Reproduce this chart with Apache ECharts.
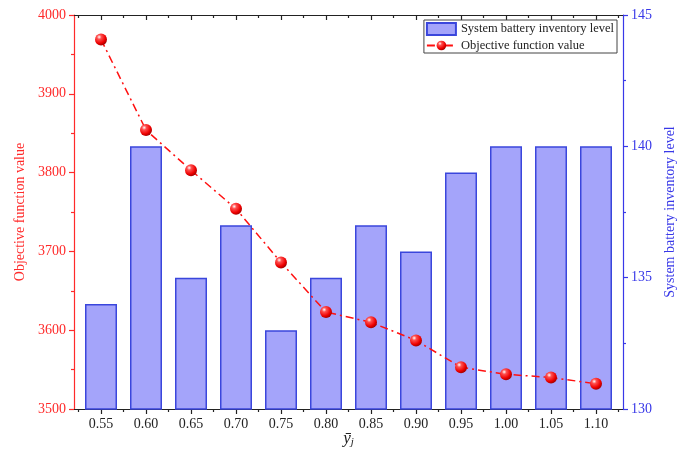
<!DOCTYPE html>
<html>
<head>
<meta charset="utf-8">
<script src="https://cdn.jsdelivr.net/npm/echarts@6/dist/echarts.min.js"></script>
<style>
    html, body { margin: 0; padding: 0; background: #fff; }
    #chart { width: 681px; height: 449px; }
</style>
</head>
<body>
<div id="chart"></div>
<script>
var xValues = [0.55, 0.60, 0.65, 0.70, 0.75, 0.80, 0.85, 0.90, 0.95, 1.00, 1.05, 1.10];
var xMinor = [0.525, 0.575, 0.625, 0.675, 0.725, 0.775, 0.825, 0.875, 0.925, 0.975, 1.025, 1.075, 1.125];
var inventory = [134, 140, 135, 137, 133, 135, 137, 136, 139, 140, 140, 140];
var objective = [3969, 3854, 3803, 3754, 3686, 3623, 3610, 3587, 3553, 3544, 3540, 3532];

var RED = '#ff2a2a';
var BLUE = '#3838e8';
var FONT = 'Liberation Serif';

var barData = xValues.map(function (x, i) { return [x, inventory[i]]; });
var lineData = xValues.map(function (x, i) { return [x, objective[i]]; });

function xAxisBase(pos, ticks, len, inside, showLine) {
    return {
        type: 'value', position: pos, min: 0.52, max: 1.13,
        axisLine: { show: showLine, onZero: false, lineStyle: { color: '#222', width: 1.2 } },
        axisTick: { show: true, customValues: ticks, length: len, inside: inside, lineStyle: { color: '#222', width: 1.2 } },
        axisLabel: { show: false },
        splitLine: { show: false }
    };
}

var xMain = xAxisBase('bottom', xValues, 5, false, true);
xMain.axisLabel = {
    show: true, customValues: xValues, margin: 8,
    color: '#222', fontFamily: FONT, fontSize: 14,
    formatter: function (v) { return v.toFixed(2); }
};
xMain.name = '{y|\u0233}{j|j}';
xMain.nameLocation = 'middle';
xMain.nameGap = 21;
xMain.nameMoveOverlap = false;
xMain.nameTextStyle = {
    fontFamily: FONT, fontSize: 16, color: '#222',
    rich: {
        y: { fontFamily: FONT, fontStyle: 'italic', fontSize: 17, color: '#222', lineHeight: 18 },
        j: { fontFamily: FONT, fontStyle: 'italic', fontSize: 11, color: '#222', lineHeight: 18, padding: [7, 0, 0, 0] }
    }
};

var chart = echarts.init(document.getElementById('chart'));
var option = {
    animation: false,
    backgroundColor: '#fff',
    grid: { left: 74, right: 58, top: 15, bottom: 40, containLabel: false, outerBoundsMode: 'none' },
    legend: {
        orient: 'vertical',
        right: 64, top: 20,
        data: [
            { name: 'System battery inventory level', icon: 'rect' },
            { name: 'Objective function value' }
        ],
        backgroundColor: '#fff',
        borderColor: '#444', borderWidth: 1, borderRadius: 0,
        padding: [2, 3, 1, 2],
        itemGap: 3, itemWidth: 29, itemHeight: 12,
        textStyle: { fontFamily: FONT, fontSize: 12.5, color: '#222' }
    },
    xAxis: [
        xMain,
        xAxisBase('bottom', xMinor, 3, false, false),
        xAxisBase('top', xValues, 5, true, true),
        xAxisBase('top', xMinor, 3, true, false)
    ],
    yAxis: [
        {
            type: 'value', position: 'left', min: 3500, max: 4000, interval: 100,
            name: 'Objective function value', nameLocation: 'middle', nameGap: 47,
            nameTextStyle: { color: RED, fontFamily: FONT, fontSize: 14 },
            axisLine: { show: true, lineStyle: { color: RED, width: 1.2 } },
            axisTick: { show: true, length: 5, lineStyle: { color: RED, width: 1.2 } },
            minorTick: { show: true, splitNumber: 2, length: 3, lineStyle: { color: RED, width: 1.2 } },
            axisLabel: { color: RED, fontFamily: FONT, fontSize: 14, margin: 8, formatter: function (v) { return String(v); } },
            splitLine: { show: false }
        },
        {
            type: 'value', position: 'right', min: 130, max: 145, interval: 5,
            name: 'System battery inventory level', nameLocation: 'middle', nameGap: 34,
            nameTextStyle: { color: BLUE, fontFamily: FONT, fontSize: 14 },
            axisLine: { show: true, lineStyle: { color: BLUE, width: 1.2 } },
            axisTick: { show: true, length: 5, lineStyle: { color: BLUE, width: 1.2 } },
            minorTick: { show: true, splitNumber: 2, length: 3, lineStyle: { color: BLUE, width: 1.2 } },
            axisLabel: { color: BLUE, fontFamily: FONT, fontSize: 14, margin: 8 },
            splitLine: { show: false }
        }
    ],
    series: [
        {
            name: 'System battery inventory level',
            type: 'bar',
            xAxisIndex: 0, yAxisIndex: 1,
            barWidth: 32,
            data: barData,
            itemStyle: { color: '#a4a4fa', borderColor: '#3a46dc', borderWidth: 1.5 }
        },
        {
            name: 'Objective function value',
            type: 'line',
            xAxisIndex: 0, yAxisIndex: 0,
            data: lineData,
            symbol: 'circle', symbolSize: 12,
            lineStyle: { color: '#ff1010', width: 1.5, type: [8, 4, 2, 4] },
            itemStyle: {
                color: new echarts.graphic.RadialGradient(0.35, 0.3, 0.75, [
                    { offset: 0, color: '#ffffff' },
                    { offset: 0.25, color: '#ff5050' },
                    { offset: 0.7, color: '#ee0000' },
                    { offset: 1, color: '#990000' }
                ]),
                borderWidth: 0
            },
            z: 5
        }
    ]
};
chart.setOption(option);
</script>
</body>
</html>
